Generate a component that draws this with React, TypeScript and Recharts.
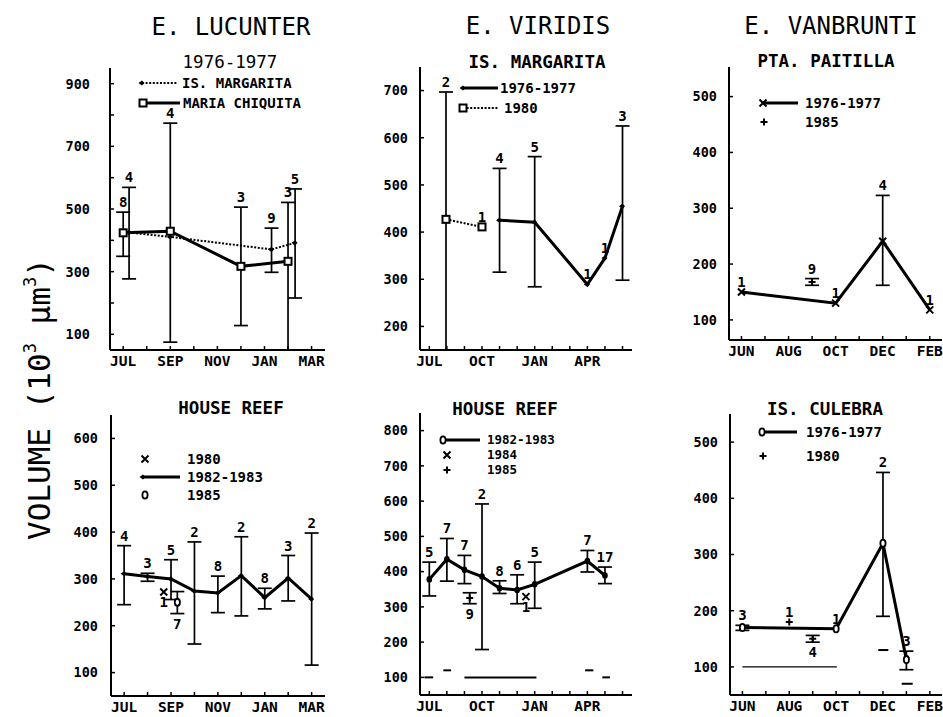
import React from 'react';
import { ComposedChart, Line, Scatter, XAxis, YAxis, ErrorBar, ReferenceLine } from 'recharts';

const MONO = '"DejaVu Sans Mono", "Liberation Mono", monospace';

// ---------- axis ticks & labels ----------
const ticks9 = [0, 1, 2, 3, 4, 5, 6, 7, 8];
const ticks12 = [0, 1, 2, 3, 4, 5, 6, 7, 8, 9, 10, 11];
const labelsJulMar = ['JUL', '', 'SEP', '', 'NOV', '', 'JAN', '', 'MAR'];
const labelsJulApr = ['JUL', '', '', 'OCT', '', '', 'JAN', '', '', 'APR', '', ''];
const labelsJunFeb = ['JUN', '', 'AUG', '', 'OCT', '', 'DEC', '', 'FEB'];

const p1YTicks = [100, 200, 300, 400, 500, 600, 700, 800, 900];
const p1YLabels = [100, 300, 500, 700, 900];
const p2YTicks = [200, 300, 400, 500, 600, 700];
const p3YTicks = [100, 200, 300, 400, 500];
const p4YTicks = [100, 200, 300, 400, 500, 600];
const p5YTicks = [100, 200, 300, 400, 500, 600, 700, 800];
const p6YTicks = [100, 200, 300, 400, 500];

// ---------- Panel 1: E. LUCUNTER 1976-1977 ----------
const p1McX = [0, 2, 5, 7];
const p1McY = [424, 429, 317, 333];
const p1McLo = [349, 75, 128, 50];
const p1McHi = [490, 774, 506, 521];
const p1McN = [8, 4, 3, 3];
const p1ImX = [0.25, 2, 6.3, 7.3];
const p1ImY = [425, 411, 371, 392];
const p1ImLo = [277, null, 298, 216];
const p1ImHi = [569, null, 439, 564];
const p1ImN = [4, null, 9, 5];

// ---------- Panel 2: E. VIRIDIS Is. Margarita ----------
const p2a80X = [0.95, 3];
const p2a80Y = [427, 411];
const p2a80Lo = [150, null];
const p2a80Hi = [697, null];
const p2a80N = [2, 1];
const p2a76X = [4, 6, 9, 10, 11];
const p2a76Y = [425, 421, 289, 345, 455];
const p2a76Lo = [315, 284, null, null, 298];
const p2a76Hi = [535, 560, null, null, 625];
const p2a76N = [4, 5, 1, 1, 3];

// ---------- Panel 3: E. VANBRUNTI Pta. Paitilla ----------
const p3a76X = [0, 4, 6, 8];
const p3a76Y = [150, 130, 241, 118];
const p3a76Lo = [null, null, 162, null];
const p3a76Hi = [null, null, 323, null];
const p3a76N = [1, 1, 4, 1];
const p3a85X = [3];
const p3a85Y = [168];
const p3a85Lo = [162];
const p3a85Hi = [174];
const p3a85N = [9];

// ---------- Panel 4: E. LUCUNTER House Reef ----------
const p4a82X = [0, 1, 2, 3, 4, 5, 6, 7, 8];
const p4a82Y = [311, 305, 300, 274, 270, 307, 260, 302, 257];
const p4a82Lo = [245, 295, 256, 161, 228, 221, 236, 253, 116];
const p4a82Hi = [371, 312, 341, 379, 306, 390, 280, 350, 398];
const p4a82N = [4, 3, 5, 2, 8, 2, 8, 3, 2];
const p4a80X = [1.69];
const p4a80Y = [272];
const p4a80N = [1];
const p4a85X = [2.27];
const p4a85Y = [250];
const p4a85Lo = [226];
const p4a85Hi = [273];
const p4a85N = [7];

// ---------- Panel 5: E. VIRIDIS House Reef ----------
const p5a82X = [0, 1, 2, 3, 4, 5, 6, 9, 10];
const p5a82Y = [378, 435, 405, 386, 353, 348, 364, 430, 389];
const p5a82Lo = [331, 373, 366, 179, 338, 309, 296, 399, 366];
const p5a82Hi = [427, 494, 446, 592, 374, 391, 427, 460, 413];
const p5a82N = [5, 7, 7, 2, 8, 6, 5, 7, 17];
const p5a84X = [5.5];
const p5a84Y = [329];
const p5a84N = [1];
const p5a85X = [2.3];
const p5a85Y = [325];
const p5a85Lo = [309];
const p5a85Hi = [340];
const p5a85N = [9];
const p5DashX1 = [-0.28, 0.8, 2.0, 8.87, 9.85];
const p5DashX2 = [0.22, 1.24, 6.1, 9.34, 10.29];
const p5DashY = [100, 120, 100, 120, 100];

// ---------- Panel 6: E. VANBRUNTI Is. Culebra ----------
const p6a76X = [0, 4, 6, 7];
const p6a76Y = [170, 168, 320, 113];
const p6a76Lo = [165, null, 190, 95];
const p6a76Hi = [174, null, 446, 128];
const p6a76N = [3, 1, 2, 3];
const p6a80X = [2, 3];
const p6a80Y = [180, 150];
const p6a80Lo = [null, 144];
const p6a80Hi = [null, 156];
const p6a80N = [1, 4];
const p6DashX1 = [0, 5.8, 6.8];
const p6DashX2 = [4.03, 6.23, 7.27];
const p6DashY = [100, 130, 70];

// ---------- helpers ----------
type Num = number | null;
interface SeriesDef {
  xs: number[]; ys: number[]; lo?: Num[]; hi?: Num[]; ns?: Num[];
  line: boolean; dashed?: boolean; marker: string; below?: number[];
}

function rows(s: SeriesDef) {
  return s.xs.map((x, i) => {
    const lo = s.lo ? s.lo[i] : null;
    const hi = s.hi ? s.hi[i] : null;
    const y = s.ys[i];
    return {
      x, y,
      lo, hi,
      err: lo != null && hi != null ? [y - lo, hi - y] : null,
      n: s.ns ? s.ns[i] : null,
      below: s.below ? s.below.includes(i) : false,
    };
  });
}

const Mark = ({ kind, cx, cy }: { kind: string; cx: number; cy: number }) => {
  if (cx == null || cy == null || isNaN(cx) || isNaN(cy)) return <g />;
  switch (kind) {
    case 'square':
      return <rect x={cx - 3.5} y={cy - 3.5} width={7} height={7} fill="#fff" stroke="#000" strokeWidth={2} />;
    case 'diamond':
      return <polygon points={`${cx - 3.5},${cy} ${cx},${cy - 2.6} ${cx + 2.5},${cy} ${cx},${cy + 2.6}`} fill="#000" />;
    case 'x':
      return <path d={`M${cx - 3.5},${cy - 3.5}L${cx + 3.5},${cy + 3.5}M${cx + 3.5},${cy - 3.5}L${cx - 3.5},${cy + 3.5}`} stroke="#000" strokeWidth={2} />;
    case 'plus':
      return <path d={`M${cx - 3.5},${cy}L${cx + 3.5},${cy}M${cx},${cy - 3.5}L${cx},${cy + 3.5}`} stroke="#000" strokeWidth={2} />;
    case 'oval':
      return <ellipse cx={cx} cy={cy} rx={2.6} ry={3.6} fill="#fff" stroke="#000" strokeWidth={1.8} />;
    case 'dot':
      return <ellipse cx={cx} cy={cy} rx={2.8} ry={3.3} fill="#000" />;
    default:
      return <g />;
  }
};

interface PanelProps {
  box: { left: number; right: number; top: number; bottom: number };
  xDomain: [number, number]; xTicks: number[]; xLabels: string[];
  yDomain: [number, number]; yTicks: number[]; yLabels: number[]; yGap: number;
  series: SeriesDef[];
  dashes?: { x1: number[]; x2: number[]; y: number[]; thin?: number[] };
}

function Panel(p: PanelProps) {
  const YW = 60, TP = 14, XH = 24;
  const RP = p.box.right >= 938 ? 943 - p.box.right : 6;
  const width = YW + (p.box.right - p.box.left) + RP;
  const height = TP + (p.box.bottom - p.box.top) + XH;
  const all = p.series.map(rows);
  const barRows = all.flat().filter((r) => r.err);
  const labAbove = all.flat().filter((r) => r.n != null && !r.below).map((r) => ({ x: r.x, y: r.hi != null ? r.hi : r.y, n: r.n }));
  const labBelow = all.flat().filter((r) => r.n != null && r.below).map((r) => ({ x: r.x, y: r.lo != null ? r.lo : r.y, n: r.n }));

  const XTick = (t: any) => {
    const idx = p.xTicks.indexOf(t.payload.value);
    const lab = idx >= 0 ? p.xLabels[idx] : '';
    return (
      <g>
        <line x1={t.x} y1={t.y} x2={t.x} y2={t.y - 4} stroke="#000" strokeWidth={1.5} />
        {lab ? (
          <text x={t.x} y={t.y + 16} textAnchor="middle" fontFamily={MONO} fontWeight="bold" fontSize={14.5} fill="#000">{lab}</text>
        ) : null}
      </g>
    );
  };
  const YTick = (t: any) => {
    const v = t.payload.value;
    return (
      <g>
        <line x1={t.x} y1={t.y} x2={t.x + 4} y2={t.y} stroke="#000" strokeWidth={1.5} />
        {p.yLabels.includes(v) ? (
          <text x={t.x - p.yGap} y={t.y} dy="0.36em" textAnchor="end" fontFamily={MONO} fontWeight="bold" fontSize={13.5} fill="#000">{v}</text>
        ) : null}
      </g>
    );
  };

  return (
    <div style={{ position: 'absolute', left: p.box.left - YW, top: p.box.top - TP }}>
      <ComposedChart width={width} height={height} margin={{ top: TP, right: RP, left: 0, bottom: 0 }}>
        <XAxis
          type="number" dataKey="x" domain={p.xDomain} ticks={p.xTicks} interval={0} allowDataOverflow
          tickSize={0} tickMargin={0} tickLine={false} height={XH}
          axisLine={{ stroke: '#000', strokeWidth: 2 }} tick={XTick}
        />
        <YAxis
          type="number" dataKey="y" domain={p.yDomain} ticks={p.yTicks} interval={0} allowDataOverflow
          tickSize={0} tickMargin={0} tickLine={false} width={YW}
          axisLine={{ stroke: '#000', strokeWidth: 2 }} tick={YTick}
        />
        {p.dashes
          ? p.dashes.x1.map((x1, i) => (
              <ReferenceLine
                key={'d' + i}
                segment={[{ x: x1, y: p.dashes!.y[i] }, { x: p.dashes!.x2[i], y: p.dashes!.y[i] }]}
                stroke="#000"
                strokeWidth={p.dashes!.thin && p.dashes!.thin.includes(i) ? 1.3 : 2}
                ifOverflow="visible"
              />
            ))
          : null}
        <Scatter data={barRows} dataKey="y" isAnimationActive={false} shape={() => <g />}>
          <ErrorBar dataKey="err" direction="y" width={7} stroke="#000" strokeWidth={1.7} isAnimationActive={false} />
        </Scatter>
        {p.series.map((s, i) =>
          s.line ? (
            <Line
              key={'s' + i}
              data={all[i]}
              dataKey="y"
              type="linear"
              stroke="#000"
              strokeWidth={s.dashed ? 2 : 3}
              strokeDasharray={s.dashed ? '2 1.6' : undefined}
              isAnimationActive={false}
              dot={(d: any) => <Mark key={'m' + i + '-' + d.index} kind={s.marker} cx={d.cx} cy={d.cy} />}
              activeDot={false}
            />
          ) : (
            <Scatter
              key={'s' + i}
              data={all[i]}
              dataKey="y"
              isAnimationActive={false}
              shape={(d: any) => <Mark kind={s.marker} cx={d.cx} cy={d.cy} />}
            />
          )
        )}
        <Scatter
          data={labAbove}
          dataKey="y"
          isAnimationActive={false}
          shape={(d: any) => (
            <text x={d.cx} y={d.cy - 5} textAnchor="middle" fontFamily={MONO} fontWeight="bold" fontSize={14} fill="#000">{d.payload.n}</text>
          )}
        />
        <Scatter
          data={labBelow}
          dataKey="y"
          isAnimationActive={false}
          shape={(d: any) => (
            <text x={d.cx} y={d.cy + 15} textAnchor="middle" fontFamily={MONO} fontWeight="bold" fontSize={14} fill="#000">{d.payload.n}</text>
          )}
        />
      </ComposedChart>
    </div>
  );
}

// ---------- overlay texts / legends ----------
interface LegRow { mx: number; y: number; lineTo?: number; dashed?: boolean; marker: string; tx: number; label: string }
const LegendRows = ({ rowsDef, fs = 14 }: { rowsDef: LegRow[]; fs?: number }) => (
  <g>
    {rowsDef.map((r, i) => (
      <g key={i}>
        {r.lineTo ? (
          <line x1={r.mx} y1={r.y} x2={r.lineTo} y2={r.y} stroke="#000" strokeWidth={r.dashed ? 2 : 3} strokeDasharray={r.dashed ? '2 1.6' : undefined} />
        ) : null}
        <Mark kind={r.marker} cx={r.mx} cy={r.y} />
        <text x={r.tx} y={r.y + fs * 0.34} fontFamily={MONO} fontWeight="bold" fontSize={fs} fill="#000">{r.label}</text>
      </g>
    ))}
  </g>
);

export default function App() {
  const xD1: [number, number] = [-0.56, 8.57];
  const xD2: [number, number] = [-0.53, 11.54];
  const xD3: [number, number] = [-0.53, 8.52];
  return (
    <div style={{ position: 'absolute', left: 0, top: 0, width: 943, height: 717, background: '#fff', overflow: 'hidden' }}>
      <Panel
        box={{ left: 110, right: 325, top: 68, bottom: 350 }}
        xDomain={xD1} xTicks={ticks9} xLabels={labelsJulMar}
        yDomain={[50, 950]} yTicks={p1YTicks} yLabels={p1YLabels} yGap={20}
        series={[
          { xs: p1ImX, ys: p1ImY, lo: p1ImLo, hi: p1ImHi, ns: p1ImN, line: true, dashed: true, marker: 'diamond' },
          { xs: p1McX, ys: p1McY, lo: p1McLo, hi: p1McHi, ns: p1McN, line: true, marker: 'square' },
        ]}
      />
      <Panel
        box={{ left: 420, right: 632, top: 67, bottom: 350 }}
        xDomain={xD2} xTicks={ticks12} xLabels={labelsJulApr}
        yDomain={[150, 750]} yTicks={p2YTicks} yLabels={p2YTicks} yGap={12}
        series={[
          { xs: p2a80X, ys: p2a80Y, lo: p2a80Lo, hi: p2a80Hi, ns: p2a80N, line: true, dashed: true, marker: 'square' },
          { xs: p2a76X, ys: p2a76Y, lo: p2a76Lo, hi: p2a76Hi, ns: p2a76N, line: true, marker: 'diamond' },
        ]}
      />
      <Panel
        box={{ left: 729, right: 942, top: 67, bottom: 340 }}
        xDomain={xD3} xTicks={ticks9} xLabels={labelsJunFeb}
        yDomain={[64, 553]} yTicks={p3YTicks} yLabels={p3YTicks} yGap={12}
        series={[
          { xs: p3a76X, ys: p3a76Y, lo: p3a76Lo, hi: p3a76Hi, ns: p3a76N, line: true, marker: 'x' },
          { xs: p3a85X, ys: p3a85Y, lo: p3a85Lo, hi: p3a85Hi, ns: p3a85N, line: false, marker: 'plus' },
        ]}
      />
      <Panel
        box={{ left: 111, right: 325, top: 415, bottom: 696 }}
        xDomain={xD1} xTicks={ticks9} xLabels={labelsJulMar}
        yDomain={[50, 650]} yTicks={p4YTicks} yLabels={p4YTicks} yGap={13}
        series={[
          { xs: p4a82X, ys: p4a82Y, lo: p4a82Lo, hi: p4a82Hi, ns: p4a82N, line: true, marker: 'diamond' },
          { xs: p4a80X, ys: p4a80Y, ns: p4a80N, line: false, marker: 'x', below: [0] },
          { xs: p4a85X, ys: p4a85Y, lo: p4a85Lo, hi: p4a85Hi, ns: p4a85N, line: false, marker: 'oval', below: [0] },
        ]}
      />
      <Panel
        box={{ left: 420, right: 632, top: 413, bottom: 695 }}
        xDomain={xD2} xTicks={ticks12} xLabels={labelsJulApr}
        yDomain={[50, 850]} yTicks={p5YTicks} yLabels={p5YTicks} yGap={12}
        series={[
          { xs: p5a82X, ys: p5a82Y, lo: p5a82Lo, hi: p5a82Hi, ns: p5a82N, line: true, marker: 'dot' },
          { xs: p5a84X, ys: p5a84Y, ns: p5a84N, line: false, marker: 'x', below: [0] },
          { xs: p5a85X, ys: p5a85Y, lo: p5a85Lo, hi: p5a85Hi, ns: p5a85N, line: false, marker: 'plus', below: [0] },
        ]}
        dashes={{ x1: p5DashX1, x2: p5DashX2, y: p5DashY }}
      />
      <Panel
        box={{ left: 730, right: 942, top: 414, bottom: 695 }}
        xDomain={xD3} xTicks={ticks9} xLabels={labelsJunFeb}
        yDomain={[50, 550]} yTicks={p6YTicks} yLabels={p6YTicks} yGap={12}
        series={[
          { xs: p6a76X, ys: p6a76Y, lo: p6a76Lo, hi: p6a76Hi, ns: p6a76N, line: true, marker: 'oval' },
          { xs: p6a80X, ys: p6a80Y, lo: p6a80Lo, hi: p6a80Hi, ns: p6a80N, line: false, marker: 'plus', below: [1] },
        ]}
        dashes={{ x1: p6DashX1, x2: p6DashX2, y: p6DashY, thin: [0] }}
      />

      <svg width={943} height={717} style={{ position: 'absolute', left: 0, top: 0, pointerEvents: 'none' }}>
        {/* species titles */}
        <text x={231} y={35} textAnchor="middle" fontFamily={MONO} fontSize={24} fill="#000">E. LUCUNTER</text>
        <text x={538} y={34} textAnchor="middle" fontFamily={MONO} fontSize={24} fill="#000">E. VIRIDIS</text>
        <text x={831} y={34} textAnchor="middle" fontFamily={MONO} fontSize={24} fill="#000">E. VANBRUNTI</text>
        {/* panel subtitles */}
        <text x={230} y={68} textAnchor="middle" fontFamily={MONO} fontSize={17.5} fill="#000">1976-1977</text>
        <text x={537} y={68} textAnchor="middle" fontFamily={MONO} fontWeight="bold" fontSize={17.5} fill="#000">IS. MARGARITA</text>
        <text x={826} y={67} textAnchor="middle" fontFamily={MONO} fontWeight="bold" fontSize={17.5} fill="#000">PTA. PAITILLA</text>
        <text x={231} y={414} textAnchor="middle" fontFamily={MONO} fontWeight="bold" fontSize={17.5} fill="#000">HOUSE REEF</text>
        <text x={505} y={415} textAnchor="middle" fontFamily={MONO} fontWeight="bold" fontSize={17.5} fill="#000">HOUSE REEF</text>
        <text x={825} y={415} textAnchor="middle" fontFamily={MONO} fontWeight="bold" fontSize={17.5} fill="#000">IS. CULEBRA</text>
        {/* y axis title */}
        <text transform="translate(50,540) rotate(-90)" fontFamily={MONO} fontSize={31} fill="#000">
          VOLUME (10<tspan fontSize={17} dy={-14}>3</tspan><tspan dy={14}> μm</tspan><tspan fontSize={17} dy={-14}>3</tspan><tspan dy={14}>)</tspan>
        </text>
        {/* legends */}
        <LegendRows rowsDef={[
          { mx: 142, y: 83, lineTo: 178, dashed: true, marker: 'diamond', tx: 182, label: 'IS. MARGARITA' },
          { mx: 143, y: 103, lineTo: 180, marker: 'square', tx: 183, label: 'MARIA CHIQUITA' },
        ]} />
        <LegendRows rowsDef={[
          { mx: 463, y: 88, lineTo: 498, marker: 'diamond', tx: 500, label: '1976-1977' },
          { mx: 463, y: 108, lineTo: 499, dashed: true, marker: 'square', tx: 504, label: '1980' },
        ]} />
        <LegendRows rowsDef={[
          { mx: 763, y: 103, lineTo: 798, marker: 'x', tx: 805, label: '1976-1977' },
          { mx: 764, y: 122, marker: 'plus', tx: 805, label: '1985' },
        ]} />
        <LegendRows rowsDef={[
          { mx: 145, y: 459, marker: 'x', tx: 187, label: '1980' },
          { mx: 143, y: 477, lineTo: 180, marker: 'diamond', tx: 187, label: '1982-1983' },
          { mx: 145, y: 495, marker: 'oval', tx: 187, label: '1985' },
        ]} />
        <LegendRows fs={12.5} rowsDef={[
          { mx: 443, y: 440, lineTo: 480, marker: 'oval', tx: 487, label: '1982-1983' },
          { mx: 447, y: 455, marker: 'x', tx: 487, label: '1984' },
          { mx: 447, y: 470, marker: 'plus', tx: 487, label: '1985' },
        ]} />
        <LegendRows rowsDef={[
          { mx: 762, y: 432, lineTo: 797, marker: 'oval', tx: 806, label: '1976-1977' },
          { mx: 763, y: 456, marker: 'plus', tx: 806, label: '1980' },
        ]} />
      </svg>
    </div>
  );
}
